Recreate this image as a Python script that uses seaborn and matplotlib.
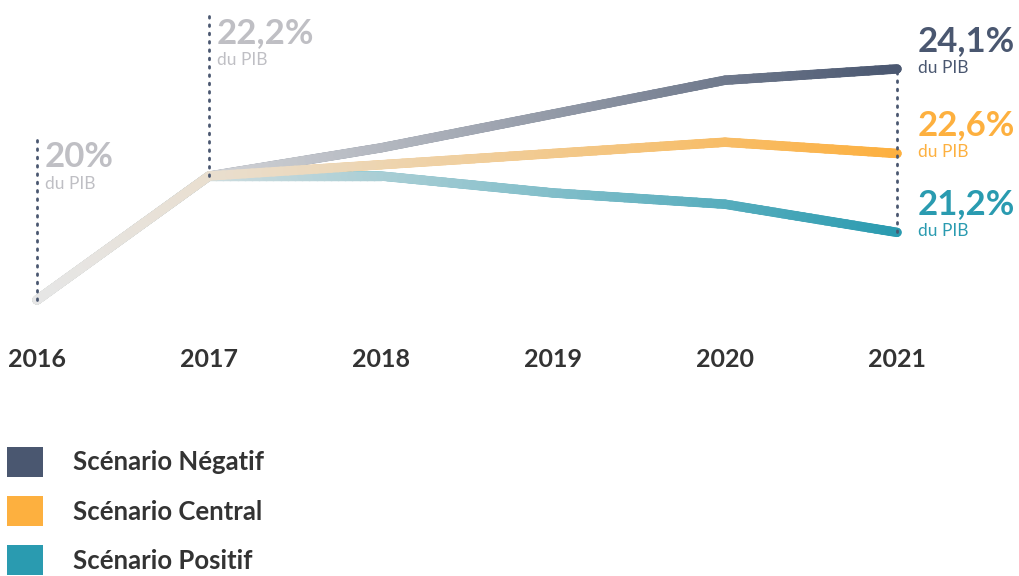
import numpy as np
import pandas as pd
import matplotlib
matplotlib.use('Agg')
import matplotlib.pyplot as plt
import seaborn as sns
from matplotlib.collections import LineCollection
from matplotlib.colors import to_rgb
from matplotlib.patches import Patch

years = [2016, 2017, 2018, 2019, 2020, 2021]
negatif = [20.0, 22.2, 22.7, 23.3, 23.9, 24.1]
central = [20.0, 22.2, 22.4, 22.6, 22.8, 22.6]
positif = [20.0, 22.2, 22.2, 21.9, 21.7, 21.2]

scenarios = ['Scénario Négatif', 'Scénario Central', 'Scénario Positif']
colors = ['#4a5770', '#fdb03f', '#2a9bb0']
end_labels = ['24,1%', '22,6%', '21,2%']
start_labels = ['20%', '22,2%']

sns.set_theme(style='white')
plt.rcParams['font.family'] = ['Lato', 'DejaVu Sans']

fig = plt.figure(figsize=(10.19, 5.76), dpi=100)
ax = fig.add_axes([0, 1 - 330 / 576, 1, 330 / 576])

df = pd.DataFrame({'year': years * 3,
                   'value': negatif + central + positif,
                   'scenario': [s for s in scenarios for _ in years]})

# base lines from seaborn, gradient drawn on top
sns.lineplot(data=df, x='year', y='value', hue='scenario', palette=colors,
             linewidth=6.5, legend=False, ax=ax, zorder=1)

ax.set_xlim(2015.785, 2021.709)
ax.set_ylim(19.468, 25.323)

light = np.array(to_rgb('#e6e6e6'))


def gradient_line(xs, ys, color, z):
    c = np.array(to_rgb(color))
    segs, cols = [], []
    for i in range(len(xs) - 1):
        for a in np.linspace(0, 1, 25)[:-1]:
            b = a + 1 / 24
            x0 = xs[i] + a * (xs[i + 1] - xs[i])
            x1 = xs[i] + b * (xs[i + 1] - xs[i])
            y0 = ys[i] + a * (ys[i + 1] - ys[i])
            y1 = ys[i] + b * (ys[i + 1] - ys[i])
            segs.append([(x0, y0), (x1, y1)])
            t = ((x0 + x1) / 2 - xs[0]) / (xs[-1] - xs[0])
            t = t ** 1.25
            cols.append(light * (1 - t) + c * t)
    lc = LineCollection(segs, colors=cols, linewidths=6.8, capstyle='round', zorder=z)
    ax.add_collection(lc)


series = [negatif, central, positif]
for k, z in [(2, 2), (0, 3), (1, 4)]:
    gradient_line(years, series[k], colors[k], z)


def shift(x, v, px):
    xp, yp = ax.transData.transform((x, v))
    return ax.transData.inverted().transform((xp, yp + px))[1]


dot_kw = dict(color='#4a5770', linestyle=(0, (0.6, 2.4)), linewidth=2, zorder=5,
              dash_capstyle='round')
grey = '#bfbfc4'

# start annotations
for i, lab in enumerate(start_labels):
    x, v = years[i], central[i]
    ax.plot([x, x], [v, shift(x, v, 160)], **dot_kw)
    ax.annotate(lab, (x, v), xytext=(8, 133), textcoords='offset pixels',
                fontsize=25, fontweight='bold', color=grey, va='baseline', ha='left')
    ax.annotate('du PIB', (x, v), xytext=(8, 111), textcoords='offset pixels',
                fontsize=12.5, color=grey, va='baseline', ha='left')

# end annotations
ends = [s[-1] for s in series]
ax.plot([years[-1], years[-1]], [min(ends), max(ends)], **dot_kw)
for k in range(3):
    v = ends[k]
    ax.annotate(end_labels[k], (years[-1], v), xytext=(21, 18), textcoords='offset pixels',
                fontsize=25, fontweight='bold', color=colors[k], va='baseline', ha='left')
    ax.annotate('du PIB', (years[-1], v), xytext=(21, -4), textcoords='offset pixels',
                fontsize=12.5, color=colors[k], va='baseline', ha='left')

ax.set_xticks(years)
ax.set_xticklabels([str(y) for y in years], fontsize=18, fontweight='bold', color='#333333')
ax.tick_params(axis='x', length=0, pad=13)
ax.set_yticks([])
ax.set_xlabel('')
ax.set_ylabel('')
for s in ax.spines.values():
    s.set_visible(False)

handles = [Patch(facecolor=c, edgecolor='none') for c in colors]
fig.legend(handles, scenarios, loc='upper left', bbox_to_anchor=(7 / 1019, 1 - 447 / 576),
           frameon=False, prop={'size': 18.5, 'weight': 'bold'}, labelcolor='#333333',
           handlelength=1.4, handleheight=1.4, handletextpad=1.15, labelspacing=0.76,
           borderpad=0, borderaxespad=0)

fig.savefig('out.png', dpi=100)
